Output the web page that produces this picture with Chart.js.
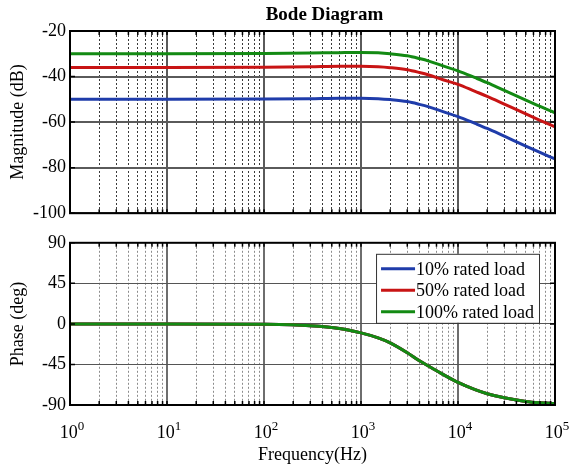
<!DOCTYPE html>
<html>
<head>
<meta charset="utf-8">
<title>Bode Diagram</title>
<script src="https://cdn.jsdelivr.net/npm/chart.js@4.4.1/dist/chart.umd.min.js"></script>
<style>
    html, body { margin: 0; padding: 0; background: #fff; }
    #figure { position: relative; width: 570px; height: 470px; background: #fff; }
    #figure canvas { position: absolute; left: 0; }
    #magChart { top: 0; }
    #phaseChart { top: 228px; }
</style>
</head>
<body>
<div id="figure">
    <canvas id="magChart" width="570" height="228"></canvas>
    <canvas id="phaseChart" width="570" height="242"></canvas>
</div>
<script>
// Values
const freqs = [1, 10, 100, 300, 600, 1000, 1500, 2000, 3000, 4000, 5000, 7000, 10000, 15000, 20000, 30000, 50000, 70000, 100000];
const magLoad10 = [-50, -50, -49.9, -49.7, -49.5, -49.5, -49.7, -50.1, -51.0, -52.2, -53.3, -55.4, -57.6, -60.6, -62.8, -66.2, -70.5, -73.3, -76.2];
const magLoad50 = [-36, -36, -35.9, -35.7, -35.5, -35.5, -35.7, -36.1, -37.0, -38.2, -39.3, -41.4, -43.4, -46.5, -48.7, -52.1, -56.4, -59.2, -62.1];
const magLoad100 = [-30, -30, -29.9, -29.7, -29.5, -29.4, -29.6, -30.0, -30.9, -32.1, -33.2, -35.3, -37.5, -40.5, -42.7, -46.1, -50.3, -53.1, -55.9];
const phaseAll = [0, 0, -0.5, -2, -5, -10, -15.5, -21, -32, -41, -47, -56, -65, -73, -77.5, -82, -86, -87.5, -88.5];

const seriesLabels = ['10% rated load', '50% rated load', '100% rated load'];
const seriesColors = ['#1f3caa', '#c81414', '#138a13'];

const magTicks = [-100, -80, -60, -40, -20];
const phaseTicks = [-90, -45, 0, 45, 90];
const decades = [1, 10, 100, 1000, 10000, 100000];
const decadeSteps = [1, 2, 3, 4, 5, 6, 7, 8, 9];

const serif = '"Liberation Serif", "Times New Roman", serif';
Chart.defaults.font.family = serif;
Chart.defaults.color = '#000';

function toPoints(values) {
    return freqs.map((f, i) => ({ x: f, y: values[i] }));
}

function isDecade(v) {
    return decades.includes(v);
}

// all log grid positions: 1..9 x 10^k
const xGridValues = [];
decades.forEach(d => {
    decadeSteps.forEach(m => {
        if (d * m <= decades[decades.length - 1]) xGridValues.push(d * m);
    });
});

// MATLAB style frame, inner ticks, title, legend and 10^n labels
const matlabBox = {
    id: 'matlabBox',
    afterDraw(chart, args, opts) {
        const { ctx, chartArea: a, scales: { x, y } } = chart;
        ctx.save();

        ctx.strokeStyle = '#000';
        ctx.lineWidth = 1.5;
        ctx.beginPath();
        xGridValues.forEach(v => {
            const px = x.getPixelForValue(v);
            ctx.moveTo(px, a.bottom);
            ctx.lineTo(px, a.bottom - 4);
            ctx.moveTo(px, a.top);
            ctx.lineTo(px, a.top + 4);
        });
        opts.yTicks.forEach(v => {
            const py = y.getPixelForValue(v);
            ctx.moveTo(a.left, py);
            ctx.lineTo(a.left + 5, py);
            ctx.moveTo(a.right, py);
            ctx.lineTo(a.right - 5, py);
        });
        ctx.stroke();

        ctx.lineWidth = 2;
        ctx.strokeRect(a.left, a.top, a.right - a.left, a.bottom - a.top);

        ctx.fillStyle = '#000';
        if (opts.title) {
            ctx.font = 'bold 19px ' + serif;
            ctx.textAlign = 'center';
            ctx.textBaseline = 'alphabetic';
            ctx.fillText(opts.title, (a.left + a.right) / 2 + 12, 20);
        }

        if (opts.decadeLabels) {
            ctx.textAlign = 'left';
            ctx.textBaseline = 'alphabetic';
            decades.forEach(d => {
                const px = x.getPixelForValue(d);
                const exp = String(Math.round(Math.log10(d)));
                ctx.font = '18px ' + serif;
                const w1 = ctx.measureText('10').width;
                ctx.font = '13px ' + serif;
                const w2 = ctx.measureText(exp).width;
                const start = px - (w1 + w2) / 2 + 2;
                ctx.font = '18px ' + serif;
                ctx.fillText('10', start, a.bottom + 33);
                ctx.font = '13px ' + serif;
                ctx.fillText(exp, start + w1, a.bottom + 25);
            });
        }

        if (opts.legend) {
            ctx.font = '18px ' + serif;
            const sets = chart.data.datasets;
            const textW = Math.max(...sets.map(ds => ctx.measureText(ds.label).width));
            const boxW = 5 + 34 + 1 + textW + 5;
            const boxH = 69;
            const bx = a.right - 16 - boxW;
            const by = a.top + 11;
            ctx.fillStyle = '#fff';
            ctx.fillRect(bx, by, boxW, boxH);
            ctx.strokeStyle = '#333';
            ctx.lineWidth = 1;
            ctx.strokeRect(bx + 0.5, by + 0.5, boxW, boxH);
            ctx.textAlign = 'left';
            ctx.textBaseline = 'middle';
            sets.forEach((ds, i) => {
                const ry = by + 15 + i * 21.5;
                ctx.strokeStyle = ds.borderColor;
                ctx.lineWidth = 3;
                ctx.beginPath();
                ctx.moveTo(bx + 5, ry);
                ctx.lineTo(bx + 39, ry);
                ctx.stroke();
                ctx.fillStyle = '#000';
                ctx.fillText(ds.label, bx + 40, ry + 1);
            });
        }
        ctx.restore();
    }
};

// later series are drawn on top, as in the original figure
function lineSet(label, values, color, idx) {
    return {
        label: label,
        data: toPoints(values),
        borderColor: color,
        backgroundColor: color,
        borderWidth: 3,
        pointRadius: 0,
        cubicInterpolationMode: 'monotone',
        fill: false,
        order: 2 - idx
    };
}

function xAxis(opts) {
    return {
        type: 'logarithmic',
        min: 1,
        max: 100000,
        afterBuildTicks: scale => {
            scale.ticks = xGridValues.map(v => ({ value: v }));
        },
        afterFit: scale => { scale.height = opts.height; },
        ticks: { display: false },
        border: {
            display: false,
            dash: ctx => (ctx.tick && !isDecade(ctx.tick.value)) ? [2, 2] : []
        },
        grid: {
            drawTicks: false,
            color: ctx => (ctx.tick && isDecade(ctx.tick.value)) ? opts.majorColor : opts.minorColor,
            lineWidth: ctx => (ctx.tick && isDecade(ctx.tick.value)) ? 2 : 1
        },
        title: opts.title ? {
            display: true,
            text: opts.title,
            font: { size: 18 },
            padding: { top: 0, bottom: 4 }
        } : { display: false }
    };
}

function yAxis(opts) {
    return {
        min: opts.ticks[0],
        max: opts.ticks[opts.ticks.length - 1],
        afterFit: scale => { scale.width = 70; },
        afterBuildTicks: scale => {
            scale.ticks = opts.ticks.map(v => ({ value: v }));
        },
        ticks: { font: { size: 18 }, padding: 4, color: '#000' },
        border: { display: false },
        grid: { drawTicks: false, color: opts.gridColor, lineWidth: opts.gridWidth },
        title: {
            display: true,
            text: opts.title,
            font: { size: 18 },
            padding: { top: 7, bottom: 0 }
        }
    };
}

document.addEventListener("DOMContentLoaded", function () {
    // Magnitude
    new Chart(document.getElementById('magChart'), {
        type: 'line',
        data: {
            datasets: [
                lineSet(seriesLabels[0], magLoad10, seriesColors[0], 0),
                lineSet(seriesLabels[1], magLoad50, seriesColors[1], 1),
                lineSet(seriesLabels[2], magLoad100, seriesColors[2], 2)
            ]
        },
        options: {
            responsive: false,
            animation: false,
            layout: { padding: { top: 31, right: 15, bottom: 7, left: 0 } },
            plugins: {
                legend: { display: false },
                tooltip: { enabled: false },
                matlabBox: { title: 'Bode Diagram', yTicks: magTicks }
            },
            scales: {
                x: xAxis({ height: 0, majorColor: '#5a5a5a', minorColor: '#3a3a3a' }),
                y: yAxis({ ticks: magTicks, title: 'Magnitude (dB)', gridColor: '#5a5a5a', gridWidth: 2 })
            }
        },
        plugins: [matlabBox]
    });

    // Phase, the same for all three loads
    new Chart(document.getElementById('phaseChart'), {
        type: 'line',
        data: {
            datasets: [
                lineSet(seriesLabels[0], phaseAll, seriesColors[0], 0),
                lineSet(seriesLabels[1], phaseAll, seriesColors[1], 1),
                lineSet(seriesLabels[2], phaseAll, seriesColors[2], 2)
            ]
        },
        options: {
            responsive: false,
            animation: false,
            layout: { padding: { top: 9, right: 15, bottom: 0, left: 0 } },
            plugins: {
                legend: { display: false },
                tooltip: { enabled: false },
                matlabBox: { yTicks: phaseTicks, decadeLabels: true, legend: true }
            },
            scales: {
                x: xAxis({ height: 65, majorColor: '#6e6e6e', minorColor: '#8c8c8c', title: 'Frequency(Hz)' }),
                y: yAxis({ ticks: phaseTicks, title: 'Phase (deg)', gridColor: '#555', gridWidth: 1 })
            }
        },
        plugins: [matlabBox]
    });
});
</script>
</body>
</html>
